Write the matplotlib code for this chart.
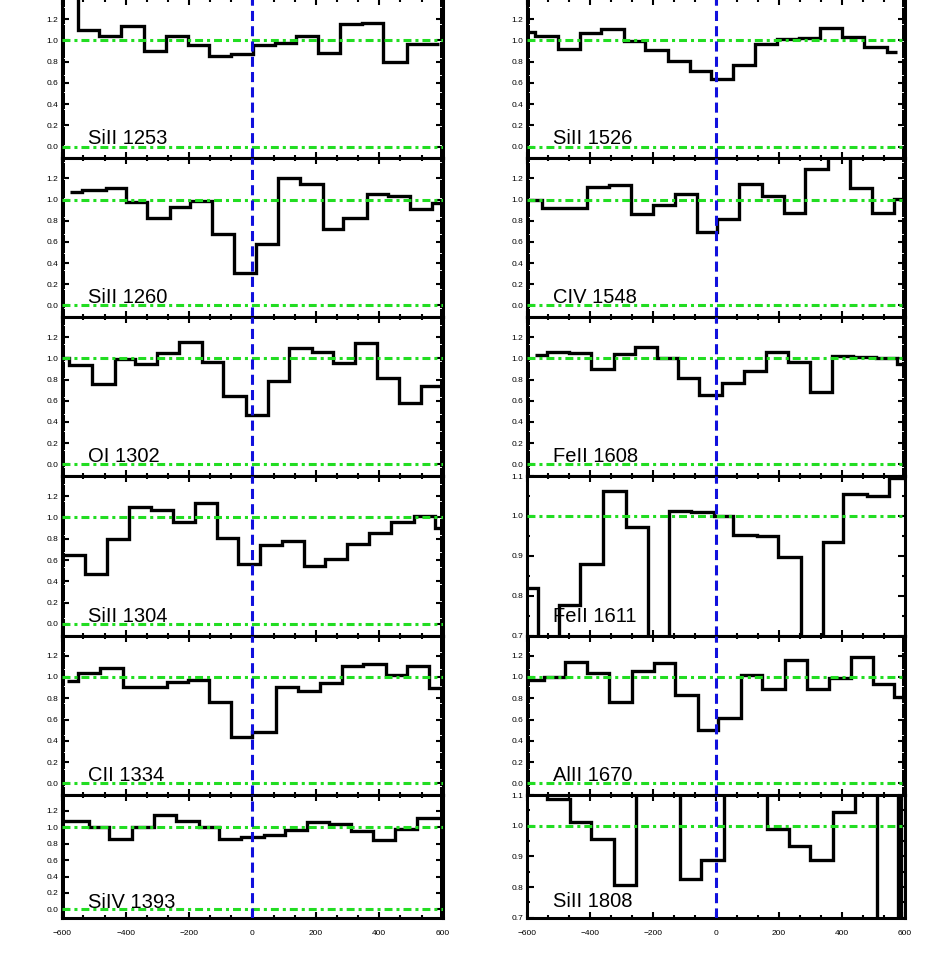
import matplotlib
matplotlib.use("Agg")
import matplotlib.pyplot as plt
import matplotlib.transforms as mtransforms
from matplotlib.ticker import MultipleLocator, FormatStrFormatter

plt.rcParams['font.family'] = ['Liberation Sans', 'DejaVu Sans']

# panel names, left column then right column
labels_left = ['SiII 1253', 'SiII 1260', 'OI 1302', 'SiII 1304', 'CII 1334', 'SiIV 1393']
labels_right = ['SiII 1526', 'CIV 1548', 'FeII 1608', 'FeII 1611', 'AlII 1670', 'SiII 1808']

# bin edges (km/s) and normalised flux per bin
edges_si2_1253 = [-620, -551, -483, -415, -342, -273, -204, -136, -68, 3, 72, 138, 208, 277, 347, 413, 487, 587]
flux_si2_1253 = [1.50, 1.10, 1.04, 1.14, 0.90, 1.04, 0.96, 0.85, 0.87, 0.96, 0.98, 1.04, 0.88, 1.15, 1.16, 0.80, 0.97]

edges_si2_1260 = [-575, -538, -462, -399, -333, -260, -197, -128, -57, 11, 80, 150, 222, 287, 361, 429, 497, 566, 597]
flux_si2_1260 = [1.07, 1.09, 1.11, 0.98, 0.83, 0.93, 0.99, 0.67, 0.31, 0.58, 1.20, 1.15, 0.72, 0.83, 1.05, 1.03, 0.91, 0.97]

edges_o1_1302 = [-620, -578, -507, -433, -370, -302, -231, -160, -94, -21, 48, 114, 187, 253, 322, 392, 463, 531, 620]
flux_o1_1302 = [1.00, 0.94, 0.76, 0.99, 0.95, 1.05, 1.15, 0.97, 0.64, 0.47, 0.79, 1.10, 1.06, 0.96, 1.14, 0.81, 0.58, 0.74]

edges_si2_1304 = [-620, -528, -460, -391, -321, -251, -181, -113, -47, 24, 93, 161, 229, 298, 369, 436, 508, 576, 620]
flux_si2_1304 = [0.65, 0.47, 0.80, 1.10, 1.07, 0.96, 1.14, 0.81, 0.56, 0.74, 0.78, 0.54, 0.61, 0.75, 0.85, 0.96, 1.01, 0.90]

edges_c2_1334 = [-586, -552, -481, -407, -270, -202, -136, -68, 0, 74, 143, 213, 282, 350, 421, 487, 557, 597]
flux_c2_1334 = [0.96, 1.04, 1.08, 0.91, 0.95, 0.97, 0.76, 0.44, 0.48, 0.91, 0.87, 0.94, 1.10, 1.12, 1.02, 1.10, 0.90]

edges_si4_1393 = [-620, -517, -454, -381, -312, -242, -170, -105, -37, 37, 103, 171, 240, 311, 379, 450, 518, 620]
flux_si4_1393 = [1.08, 1.00, 0.86, 1.00, 1.15, 1.08, 1.00, 0.86, 0.88, 0.91, 0.96, 1.06, 1.04, 0.95, 0.84, 0.98, 1.11]

edges_si2_1526 = [-620, -575, -501, -432, -365, -294, -226, -154, -83, -16, 55, 124, 193, 262, 330, 401, 471, 542, 574]
flux_si2_1526 = [1.08, 1.04, 0.92, 1.07, 1.11, 0.99, 0.91, 0.81, 0.71, 0.64, 0.77, 0.97, 1.01, 1.02, 1.12, 1.03, 0.94, 0.89]

edges_c4_1548 = [-620, -554, -411, -342, -270, -202, -132, -61, 4, 74, 145, 214, 283, 355, 424, 494, 565, 620]
flux_c4_1548 = [1.00, 0.92, 1.12, 1.14, 0.86, 0.95, 1.05, 0.69, 0.82, 1.15, 1.03, 0.87, 1.29, 1.50, 1.11, 0.87, 1.01]

edges_fe2_1608 = [-575, -538, -467, -398, -326, -259, -188, -122, -53, 18, 89, 158, 227, 299, 367, 436, 507, 576, 620]
flux_fe2_1608 = [1.03, 1.06, 1.05, 0.90, 1.04, 1.11, 1.00, 0.81, 0.65, 0.77, 0.88, 1.06, 0.97, 0.68, 1.02, 1.01, 1.00, 0.95]

edges_fe2_1611 = [-620, -566, -498, -432, -358, -287, -215, -149, -80, -8, 55, 129, 198, 269, 338, 404, 479, 550, 620]
flux_fe2_1611 = [0.819, 0.65, 0.776, 0.879, 1.063, 0.973, 0.65, 1.013, 1.010, 1.000, 0.952, 0.950, 0.898, 0.65, 0.935, 1.054, 1.050, 1.094]

edges_al2_1670 = [-620, -548, -480, -409, -339, -268, -199, -130, -58, 7, 78, 145, 219, 288, 357, 428, 498, 566, 620]
flux_al2_1670 = [0.97, 1.00, 1.14, 1.04, 0.76, 1.06, 1.13, 0.83, 0.50, 0.61, 1.02, 0.89, 1.16, 0.89, 0.99, 1.19, 0.93, 0.81]

edges_si2_1808 = [-620, -536, -464, -398, -324, -255, -116, -48, 25, 161, 232, 299, 370, 442, 510, 577, 588, 620]
flux_si2_1808 = [1.20, 1.087, 1.011, 0.957, 0.805, 1.20, 0.827, 0.888, 1.20, 0.989, 0.934, 0.888, 1.043, 1.20, 0.60, 1.20, 0.60]

left = [(edges_si2_1253, flux_si2_1253), (edges_si2_1260, flux_si2_1260), (edges_o1_1302, flux_o1_1302),
        (edges_si2_1304, flux_si2_1304), (edges_c2_1334, flux_c2_1334), (edges_si4_1393, flux_si4_1393)]
right = [(edges_si2_1526, flux_si2_1526), (edges_c4_1548, flux_c4_1548), (edges_fe2_1608, flux_fe2_1608),
         (edges_fe2_1611, flux_fe2_1611), (edges_al2_1670, flux_al2_1670), (edges_si2_1808, flux_si2_1808)]
# panels with a zoomed flux range
narrow = {'FeII 1611', 'SiII 1808'}

W, H = 927, 955
fig = plt.figure(figsize=(W / 100, H / 100), dpi=100)

# pixel frame of each column / row
col_x = [(62.3, 442.7), (527.3, 905.0)]
row_y = [(-1, 158.3), (158.3, 317), (317, 476), (476, 635.5), (635.5, 795), (795, 917.7)]

green_dash = (2.6, 1.3, 1.0, 1.3)
blue_dash = (3.3, 1.7)

for c, (labels, spectra) in enumerate([(labels_left, left), (labels_right, right)]):
    x0, x1 = col_x[c]
    for r, (name, (edges, flux)) in enumerate(zip(labels, spectra)):
        y0, y1 = row_y[r]
        ax = fig.add_axes([x0 / W, 1 - y1 / H, (x1 - x0) / W, (y1 - y0) / H])
        ax.stairs(flux, edges, baseline=None, color='black', lw=2.4, zorder=2)
        ax.axhline(1.0, color='#22dd22', lw=2.2, dashes=green_dash, zorder=3)
        ax.axhline(0.0, color='#22dd22', lw=2.2, dashes=green_dash, zorder=3)
        ax.axvline(0.0, color='#1010dd', lw=2.2, dashes=blue_dash, zorder=3)

        ax.set_xlim(-600, 600)
        if name in narrow:
            ax.set_ylim(0.7, 1.1)
            ax.yaxis.set_major_locator(MultipleLocator(0.1))
            ax.yaxis.set_minor_locator(MultipleLocator(0.05))
            ty = 0.735
        else:
            ax.set_ylim(-0.11 if r < 5 else -0.1, 1.39)
            ax.yaxis.set_major_locator(MultipleLocator(0.2))
            ax.yaxis.set_minor_locator(MultipleLocator(0.02))
            ty = 0.02
        ax.yaxis.set_major_formatter(FormatStrFormatter('%.1f'))
        ax.xaxis.set_major_locator(MultipleLocator(200))
        ax.xaxis.set_minor_locator(MultipleLocator(200 / 3))

        ax.tick_params(which='both', direction='in', top=True, right=True, width=1.5)
        ax.tick_params(axis='y', which='major', length=5, labelsize=6, pad=3)
        ax.tick_params(axis='y', which='minor', length=2)
        ax.tick_params(axis='x', which='major', length=4, labelsize=6, pad=9)
        ax.tick_params(axis='x', which='minor', length=2)
        if r < 5:
            ax.tick_params(axis='x', labelbottom=False)
        for s in ax.spines.values():
            s.set_linewidth(2.2)

        trans = mtransforms.blended_transform_factory(ax.transAxes, ax.transData)
        ax.text(0.068, ty, name, transform=trans, fontsize=14.5, va='baseline', ha='left', zorder=4)

fig.savefig('out.png', dpi=100)
